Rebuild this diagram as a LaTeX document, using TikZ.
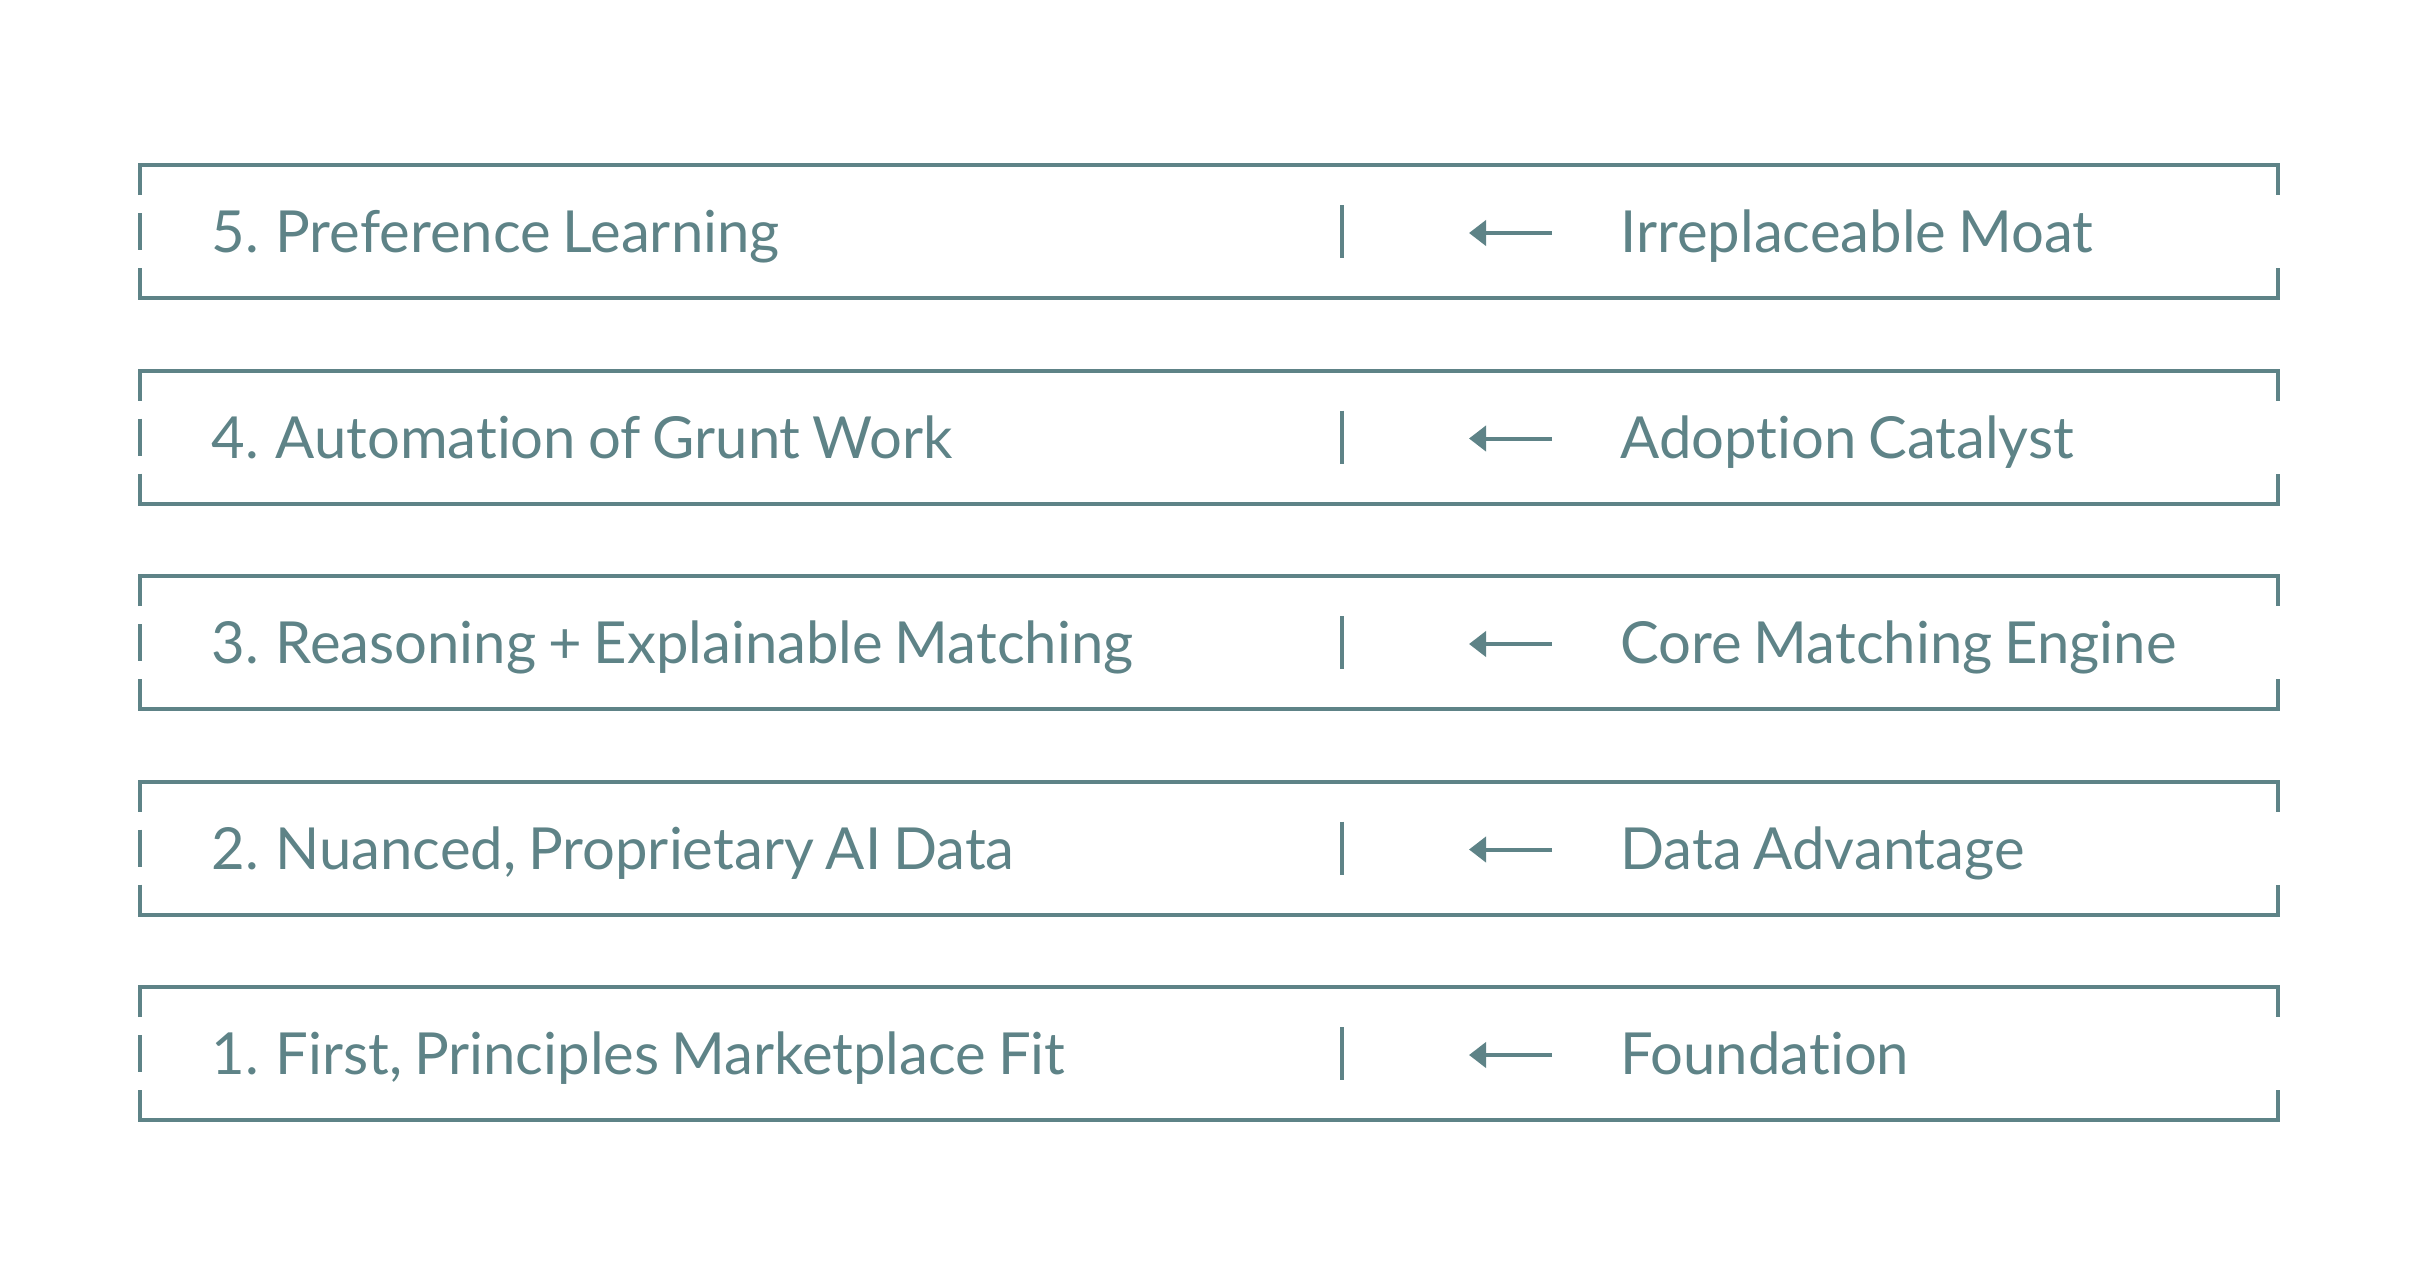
\documentclass[tikz,border=0pt]{standalone}
\usepackage{fontspec}
\setmainfont{Lato}[RawFeature=-liga,WordSpace=0.8]
\usetikzlibrary{arrows.meta}
\definecolor{slate}{HTML}{5E8387}
\begin{document}
\begin{tikzpicture}[x=0.5pt,y=-0.5pt]
\useasboundingbox (0,0) rectangle (2417,1286);
\tikzset{
  frame/.style={draw=slate,line width=2pt,line cap=butt,line join=miter},
  lbl/.style={text=slate,font=\fontsize{29}{35}\selectfont,anchor=base west,inner sep=0pt},
  divider/.style={draw=slate,line width=2pt},
  pointer/.style={draw=slate,line width=2pt,-{Triangle[length=8.5pt,width=12.5pt]}}
}
\foreach \l/\r [count=\k] in {
  {5. Preference Learning}/{Irreplaceable Moat},
  {4. Automation of Grunt Work}/{Adoption Catalyst},
  {3. Reasoning + Explainable Matching}/{Core Matching Engine},
  {2. Nuanced, Proprietary AI Data}/{Data Advantage},
  {1. First, Principles Marketplace Fit}/{Foundation}}
{
  \pgfmathsetmacro{\cy}{231.5+205.5*(\k-1)}
  \draw[frame] (140,\cy-36.5) -- (140,\cy-66.5) -- (2278,\cy-66.5) -- (2278,\cy-36.5);
  \draw[frame] (140,\cy+36.5) -- (140,\cy+66.5) -- (2278,\cy+66.5) -- (2278,\cy+36.5);
  \draw[frame] (140,\cy-18.5) -- (140,\cy+18.5);
  \node[lbl] (left\k) at (211,\cy+21) {\l};
  \node[lbl] (right\k) at (1620,\cy+21) {\r};
  \coordinate (dtop\k) at (1342,\cy-26.5);
  \coordinate (dbot\k) at (1342,\cy+26.5);
  \draw[divider] (dtop\k) -- (dbot\k);
  \coordinate (afrom\k) at (1552,\cy+1.5);
  \coordinate (ato\k) at (1469,\cy+1.5);
  \draw[pointer] (afrom\k) -- (ato\k);
}
\end{tikzpicture}
\end{document}
